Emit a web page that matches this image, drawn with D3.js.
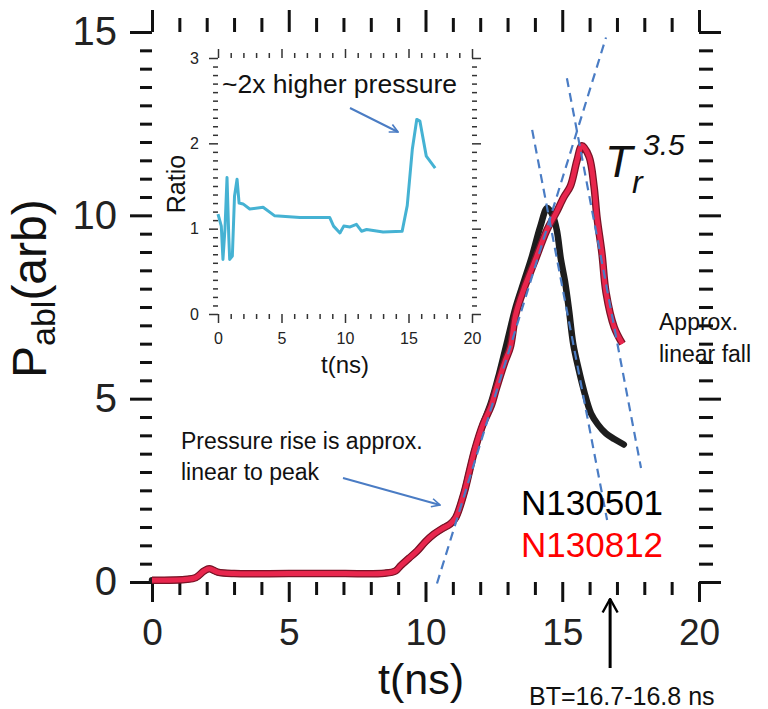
<!DOCTYPE html>
<html>
<head>
<meta charset="utf-8">
<script src="https://cdn.jsdelivr.net/npm/d3@7"></script>
<style>
  body { margin: 0; background: #fff; }
  svg text { font-family: "Liberation Sans", Arial, Helvetica, sans-serif; }
</style>
</head>
<body>
<div class="chart"></div>
<script>
var width = 768,
    height = 709;

// main panel data: time (ns) and ablation pressure (arb)
var shot501T = [0, 1.2, 1.6, 1.9, 2.1, 2.4, 3, 5, 7, 8.5, 8.9, 9.1, 9.4, 9.7, 10.0, 10.3, 10.6, 10.9, 11.1, 11.4, 11.6, 11.8, 12.1, 12.4, 12.7, 13.0, 13.3, 13.6, 13.9, 14.2, 14.45, 14.65, 14.8, 14.95, 15.1, 15.25, 15.4, 15.6, 15.8, 16.05, 16.3, 16.6, 16.9, 17.25];
var shot501P = [0.05, 0.07, 0.12, 0.3, 0.36, 0.27, 0.23, 0.23, 0.23, 0.24, 0.3, 0.45, 0.65, 0.85, 1.1, 1.3, 1.45, 1.58, 1.75, 2.4, 3.0, 3.6, 4.3, 4.9, 5.7, 6.6, 7.5, 8.2, 8.9, 9.7, 10.2, 10.0, 9.6, 8.8, 8.2, 7.4, 6.5, 5.8, 5.2, 4.6, 4.3, 4.05, 3.9, 3.75];

var shot812T = [0, 1.2, 1.6, 1.9, 2.1, 2.4, 3, 5, 7, 8.5, 8.9, 9.1, 9.4, 9.7, 10.0, 10.3, 10.6, 10.9, 11.1, 11.4, 11.6, 11.8, 12.1, 12.4, 12.6, 12.9, 13.1, 13.3, 13.6, 13.97, 14.44, 14.77, 15.06, 15.3, 15.54, 15.72, 15.98, 16.16, 16.27, 16.45, 16.6, 16.9, 17.2];
var shot812P = [0.05, 0.07, 0.12, 0.3, 0.36, 0.27, 0.23, 0.23, 0.23, 0.24, 0.3, 0.45, 0.65, 0.85, 1.1, 1.3, 1.45, 1.58, 1.75, 2.4, 3.0, 3.6, 4.3, 4.8, 5.3, 6.0, 6.4, 7.3, 8.0, 8.7, 9.6, 10.06, 10.5, 10.8, 11.5, 11.9, 11.6, 10.8, 9.95, 8.97, 7.9, 6.95, 6.5];

// linear fits drawn as dashed lines [t0, P0, t1, P1]
var fitRise = [10.42, -0.04, 16.6, 14.85];
var fitFall501 = [13.9, 12.33, 16.64, 1.69];
var fitFall812 = [15.17, 13.74, 17.88, 3.11];

var xTicks = [0, 5, 10, 15, 20];
var yTicks = [0, 5, 10, 15];

// inset: pressure ratio
var ratioT = [0, 0.26, 0.39, 0.55, 0.71, 0.85, 0.92, 1.13, 1.3, 1.5, 1.66, 1.97, 2.5, 3.55, 4.47, 6.45, 8.8, 9.1, 9.6, 9.9, 10.4, 10.9, 11.3, 11.7, 13.0, 14.5, 14.9, 15.3, 15.65, 15.9, 16.4, 17.1];
var ratioR = [1.17, 1.03, 0.64, 1.0, 1.6, 0.9, 0.64, 0.68, 1.38, 1.58, 1.3, 1.29, 1.23, 1.25, 1.15, 1.13, 1.13, 1.03, 0.95, 1.03, 1.02, 1.05, 0.97, 0.99, 0.96, 0.97, 1.27, 1.93, 2.28, 2.26, 1.85, 1.71];
var insetXTicks = [0, 5, 10, 15, 20];
var insetYTicks = [0, 1, 2, 3];

var svg = d3.select(".chart")
  .append("svg")
  .attr("width", width)
  .attr("height", height);

var x = d3.scaleLinear().domain([0, 20]).range([152, 699]);
var y = d3.scaleLinear().domain([0, 15]).range([582, 32]);

// ----- main ticks (outward, no frame line)
function tickAxis(axisFn, scale, vals, size, tx, ty, fmt) {
  var g = svg.append("g")
    .attr("transform", "translate(" + tx + "," + ty + ")")
    .call(axisFn(scale).tickValues(vals).tickSize(size).tickFormat(fmt || "").tickPadding(14));
  g.select(".domain").remove();
  g.selectAll("line").attr("stroke", "#111").attr("stroke-width", 3);
  return g;
}
var xMinor = d3.range(0, 21, 1).filter(function(d) { return d % 5 != 0; });
var yMinor = d3.range(0, 15.01, 0.5).filter(function(d) { return d % 5 != 0; });

tickAxis(d3.axisBottom, x, xMinor, 13, 0, 582);
tickAxis(d3.axisTop, x, xMinor, 14, 0, 32);
tickAxis(d3.axisLeft, y, yMinor, 12, 152, 0);
tickAxis(d3.axisRight, y, yMinor, 14, 699, 0);
tickAxis(d3.axisTop, x, xTicks, 22, 0, 32);
tickAxis(d3.axisRight, y, yTicks, 22, 699, 0);

var xa = tickAxis(d3.axisBottom, x, xTicks, 20, 0, 582, d3.format("d"));
xa.selectAll("text").attr("font-size", 37).attr("fill", "#222").attr("dy", "0.71em")
  .attr("y", 37);
var ya = tickAxis(d3.axisLeft, y, yTicks, 22, 152, 0, d3.format("d"));
ya.selectAll("text").attr("font-size", 40).attr("fill", "#222").attr("x", -35);

// ----- dashed fits
function fitLine(f) {
  svg.append("line")
    .attr("x1", x(f[0])).attr("y1", y(f[1]))
    .attr("x2", x(f[2])).attr("y2", y(f[3]))
    .attr("stroke", "#4a7cc4")
    .attr("stroke-width", 2.2)
    .attr("stroke-dasharray", "9,6");
}

// ----- curves
var line = d3.line()
  .x(function(d) { return x(d[0]); })
  .y(function(d) { return y(d[1]); })
  .curve(d3.curveCatmullRom);

var d501 = shot501T.map(function(t, i) { return [t, shot501P[i]]; });
var d812 = shot812T.map(function(t, i) { return [t, shot812P[i]]; });

svg.append("path").attr("d", line(d501))
  .attr("fill", "none").attr("stroke", "#1d1d1d").attr("stroke-width", 6.5)
  .attr("stroke-linejoin", "round").attr("stroke-linecap", "round");
svg.append("path").attr("d", line(d812))
  .attr("fill", "none").attr("stroke", "#7a1326").attr("stroke-width", 7.5)
  .attr("stroke-linejoin", "round");
svg.append("path").attr("d", line(d812))
  .attr("fill", "none").attr("stroke", "#e8264d").attr("stroke-width", 5)
  .attr("stroke-linejoin", "round");

fitLine(fitRise);
fitLine(fitFall501);
fitLine(fitFall812);

// ----- arrow markers
var defs = svg.append("defs");
defs.append("marker").attr("id", "blueHead")
  .attr("viewBox", "0 0 12 12").attr("refX", 11).attr("refY", 6)
  .attr("markerWidth", 10).attr("markerHeight", 10).attr("markerUnits", "userSpaceOnUse")
  .attr("orient", "auto")
  .append("path").attr("d", "M1,1 L11,6 L1,11").attr("fill", "none")
  .attr("stroke", "#4a7cc4").attr("stroke-width", 2);
defs.append("marker").attr("id", "blackHead")
  .attr("viewBox", "0 0 12 12").attr("refX", 11).attr("refY", 6)
  .attr("markerWidth", 18).attr("markerHeight", 18).attr("markerUnits", "userSpaceOnUse")
  .attr("orient", "auto")
  .append("path").attr("d", "M2,1 L11,6 L2,11").attr("fill", "none")
  .attr("stroke", "#000").attr("stroke-width", 1.6);

// ----- inset
var ix = d3.scaleLinear().domain([0, 20]).range([218, 472]);
var iy = d3.scaleLinear().domain([0, 3]).range([314, 58]);

function insetAxis(axisFn, scale, vals, size, tx, ty, fmt) {
  var g = svg.append("g")
    .attr("transform", "translate(" + tx + "," + ty + ")")
    .call(axisFn(scale).tickValues(vals).tickSize(size).tickFormat(fmt || "").tickPadding(5));
  g.select(".domain").remove();
  g.selectAll("line").attr("stroke", "#333").attr("stroke-width", 1.5);
  return g;
}
var ixMinor = d3.range(0, 21, 1).filter(function(d) { return d % 5 != 0; });
var iyMinor = d3.range(0, 3.001, 0.1).map(function(d) { return Math.round(d * 10) / 10; })
  .filter(function(d) { return d % 1 != 0; });

insetAxis(d3.axisBottom, ix, ixMinor, 5, 0, 314);
insetAxis(d3.axisTop, ix, ixMinor, 5, 0, 58);
insetAxis(d3.axisLeft, iy, iyMinor, 5, 218, 0);
insetAxis(d3.axisRight, iy, iyMinor, 5, 472, 0);
insetAxis(d3.axisTop, ix, insetXTicks, 9, 0, 58);
insetAxis(d3.axisRight, iy, insetYTicks, 9, 472, 0);
var ixa = insetAxis(d3.axisBottom, ix, insetXTicks, 9, 0, 314, d3.format("d"));
ixa.selectAll("text").attr("font-size", 16).attr("fill", "#222").attr("y", 19);
var iya = insetAxis(d3.axisLeft, iy, insetYTicks, 9, 218, 0, d3.format("d"));
iya.selectAll("text").attr("font-size", 16).attr("fill", "#222").attr("x", -19);

var iline = d3.line()
  .x(function(d) { return ix(d[0]); })
  .y(function(d) { return iy(d[1]); });
svg.append("path")
  .attr("d", iline(ratioT.map(function(t, i) { return [t, ratioR[i]]; })))
  .attr("fill", "none").attr("stroke", "#45b2d3").attr("stroke-width", 3)
  .attr("stroke-linejoin", "round");

svg.append("text").attr("transform", "translate(185,184) rotate(-90)")
  .attr("text-anchor", "middle").attr("font-size", 25).attr("fill", "#111").text("Ratio");
svg.append("text").attr("x", 345).attr("y", 373)
  .attr("text-anchor", "middle").attr("font-size", 24).attr("fill", "#111").text("t(ns)");
svg.append("text").attr("x", 222).attr("y", 93)
  .attr("font-size", 26.5).attr("fill", "#111").text("~2x higher pressure");
svg.append("line").attr("x1", 350).attr("y1", 108).attr("x2", 398).attr("y2", 132)
  .attr("stroke", "#4a7cc4").attr("stroke-width", 2).attr("marker-end", "url(#blueHead)");

// ----- main labels
svg.append("text").attr("x", 421).attr("y", 694)
  .attr("text-anchor", "middle").attr("font-size", 43).attr("fill", "#111").text("t(ns)");

var yl = svg.append("text").attr("transform", "translate(46,378) rotate(-90)")
  .attr("font-size", 48).attr("fill", "#111");
yl.append("tspan").text("P");
yl.append("tspan").attr("font-size", 34).attr("dy", 9).text("abl");
yl.append("tspan").attr("dy", -9).text("(arb)");

svg.append("text").attr("x", 605).attr("y", 177)
  .attr("font-size", 45).attr("font-style", "italic").attr("fill", "#111").text("T");
svg.append("text").attr("x", 632).attr("y", 193)
  .attr("font-size", 32).attr("font-style", "italic").attr("fill", "#111").text("r");
svg.append("text").attr("x", 643).attr("y", 155)
  .attr("font-size", 30).attr("font-style", "italic").attr("fill", "#111").text("3.5");

svg.append("text").attr("x", 659).attr("y", 330)
  .attr("font-size", 23).attr("fill", "#111").text("Approx.");
svg.append("text").attr("x", 659).attr("y", 362)
  .attr("font-size", 23).attr("fill", "#111").text("linear fall");

svg.append("text").attr("x", 181).attr("y", 449)
  .attr("font-size", 23).attr("fill", "#111").text("Pressure rise is approx.");
svg.append("text").attr("x", 181).attr("y", 480)
  .attr("font-size", 23).attr("fill", "#111").text("linear to peak");
svg.append("line").attr("x1", 343).attr("y1", 478).attr("x2", 440).attr("y2", 505)
  .attr("stroke", "#4a7cc4").attr("stroke-width", 2).attr("marker-end", "url(#blueHead)");

svg.append("text").attr("x", 521).attr("y", 515)
  .attr("font-size", 35).attr("fill", "#000").text("N130501");
svg.append("text").attr("x", 521).attr("y", 557)
  .attr("font-size", 35).attr("fill", "#ff0000").text("N130812");

// burn-through time marker
svg.append("line").attr("x1", x(16.75)).attr("y1", 668).attr("x2", x(16.75)).attr("y2", 599)
  .attr("stroke", "#000").attr("stroke-width", 3).attr("marker-end", "url(#blackHead)");
svg.append("text").attr("x", 529).attr("y", 705)
  .attr("font-size", 25).attr("fill", "#111").text("BT=16.7-16.8 ns");
</script>
</body>
</html>
